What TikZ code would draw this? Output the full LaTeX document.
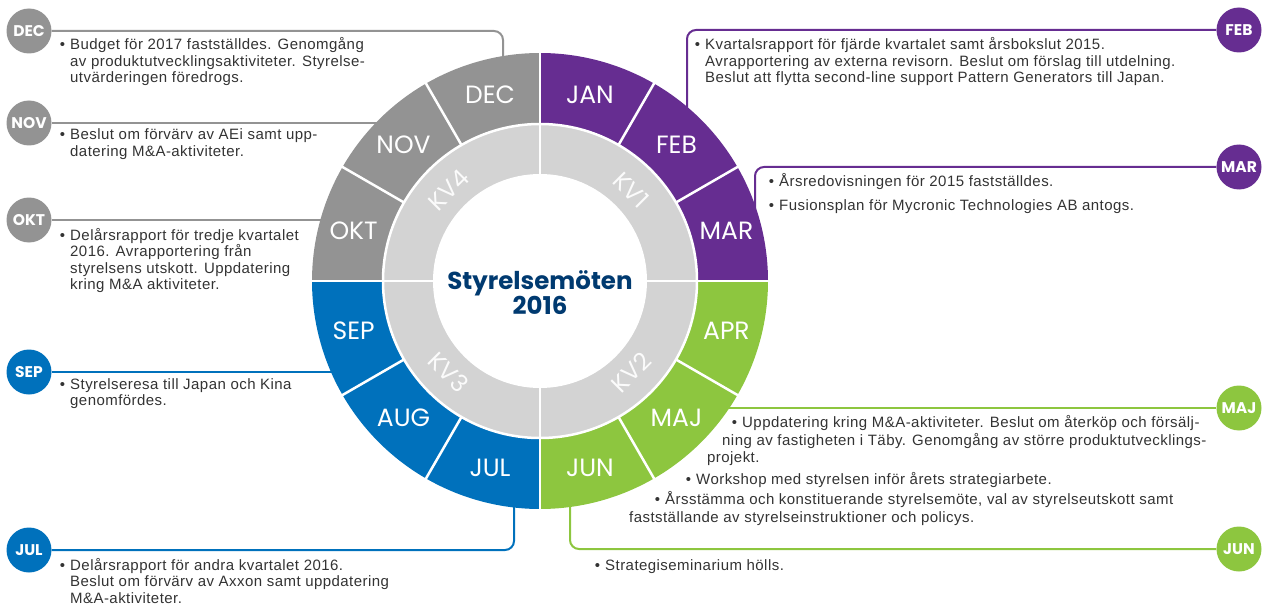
\documentclass[tikz,border=0pt]{standalone}
\usepackage{fontspec}
\setmainfont{Liberation Sans}[LetterSpace=3]
\newfontfamily\poppins{Poppins}
\usetikzlibrary{positioning}

\definecolor{kvpurple}{HTML}{662D91}
\definecolor{kvgreen}{HTML}{8DC63F}
\definecolor{kvblue}{HTML}{0071BC}
\definecolor{kvgray}{HTML}{939393}
\definecolor{ringgray}{HTML}{D3D3D3}
\definecolor{titlenavy}{HTML}{003A70}
\definecolor{bodytext}{HTML}{333333}

\tikzset{
  badge/.style={circle, fill=#1, minimum size=45, inner sep=0, text=white,
    font=\poppins\bfseries\fontsize{15.5}{15.5}\selectfont},
  link/.style={draw=#1, line width=2, rounded corners=9},
  body/.style={anchor=base west, align=left, inner sep=0, text=bodytext,
    font=\fontsize{15}{16.5}\selectfont},
  month/.style={text=white, inner sep=1, font=\poppins\fontsize{25}{25}\selectfont},
  quarter/.style={text=white!90!ringgray, inner sep=0, font=\poppins\fontsize{24}{24}\selectfont},
  gap/.style={white, line width=2.5}
}
\newcommand{\bul}{\llap{\textbullet\hspace{5pt}}}

\begin{document}
\begin{tikzpicture}[x=1pt, y=-1pt]
\useasboundingbox (0,0) rectangle (1264,607);

% badges
\node[badge=kvgray] (bdec) at (29,31) {DEC};
\node[badge=kvgray] (bnov) at (29,123) {NOV};
\node[badge=kvgray] (bokt) at (29,220) {OKT};
\node[badge=kvblue] (bsep) at (29,372) {SEP};
\node[badge=kvblue] (bjul) at (29,550) {JUL};
\node[badge=kvpurple] (bfeb) at (1239,30) {FEB};
\node[badge=kvpurple] (bmar) at (1239,167) {MAR};
\node[badge=kvgreen] (bmaj) at (1239,408) {MAJ};
\node[badge=kvgreen] (bjun) at (1239,549) {JUN};

% ends on the wheel
\coordinate (rdec) at (503,66);
\coordinate (rnov) at (385,123);
\coordinate (rokt) at (331,220);
\coordinate (rsep) at (340,372);
\coordinate (rjul) at (514,497);
\coordinate (rfeb) at (687,117);
\coordinate (rmar) at (755,215);
\coordinate (rmaj) at (720,408);
\coordinate (rjun) at (570,497);

\draw[link=kvgray] (bdec) -| (rdec);
\draw[link=kvgray] (bnov) -- (rnov);
\draw[link=kvgray] (bokt) -- (rokt);
\draw[link=kvblue] (bsep) -- (rsep);
\draw[link=kvblue] (bjul) -| (rjul);
\draw[link=kvpurple] (bfeb) -| (rfeb);
\draw[link=kvpurple] (bmar) -| (rmar);
\draw[link=kvgreen] (bmaj) -- (rmaj);
\draw[link=kvgreen] (bjun) -| (rjun);

% wheel
\begin{scope}[shift={(540,281)}, y=1pt]
  \def\Ro{228} \def\Rm{157} \def\Ri{107}
  \fill[ringgray] (0,0) circle[radius=\Rm];
  \fill[white] (0,0) circle[radius=\Ri];
  \foreach \c [count=\i from 0] in {kvpurple,kvpurple,kvpurple,kvgreen,kvgreen,kvgreen,
      kvblue,kvblue,kvblue,kvgray,kvgray,kvgray} {
    \pgfmathsetmacro\a{90-30*\i}
    \pgfmathsetmacro\b{60-30*\i}
    \fill[\c] (\a:\Rm) arc[start angle=\a, end angle=\b, radius=\Rm]
      -- (\b:\Ro) arc[start angle=\b, end angle=\a, radius=\Ro] -- cycle;
  }
  \draw[gap] (0,0) circle[radius=\Rm];
  \foreach \a in {0,30,...,330}
    \draw[gap] (\a:\Rm) -- (\a:\Ro+2);
  \foreach \a in {0,90,180,270}
    \draw[gap] (\a:\Ri) -- (\a:\Rm);
  \foreach \m [count=\i from 0] in {JAN,FEB,MAR,APR,MAJ,JUN,JUL,AUG,SEP,OKT,NOV,DEC}
    \node[month] (m\m) at ({75-30*\i}:193) {\m};
  \node[quarter, rotate=-45] (kv1) at (45:129) {KV1};
  \node[quarter, rotate=45] (kv2) at (-45:129) {KV2};
  \node[quarter, rotate=-45] (kv3) at (-135:129) {KV3};
  \node[quarter, rotate=45] (kv4) at (135:129) {KV4};
  \node[align=center, text=titlenavy, font=\poppins\bfseries\fontsize{24.5}{25}\selectfont]
    (title) at (0,-12) {Styrelsemöten\\2016};
\end{scope}

% texts (placed at the baseline of their last line)
\node[body] (tdec) at (70,83) {\bul Budget för 2017 fastställdes. Genomgång\\av produktutvecklingsaktiviteter. Styrelse-\\utvärderingen föredrogs.};
\node[body] (tnov) at (70,156.5) {\bul Beslut om förvärv av AEi samt upp-\\datering M\&A-aktiviteter.};
\node[body] (tokt) at (70,289.5) {\bul Delårsrapport för tredje kvartalet\\2016. Avrapportering från\\styrelsens utskott. Uppdatering\\kring M\&A aktiviteter.};
\node[body] (tsep) at (70,405.5) {\bul Styrelseresa till Japan och Kina\\genomfördes.};
\node[body] (tjul) at (70,603) {\bul Delårsrapport för andra kvartalet 2016.\\Beslut om förvärv av Axxon samt uppdatering\\M\&A-aktiviteter.};
\node[body] (tfeb) at (705,83) {\bul Kvartalsrapport för fjärde kvartalet samt årsbokslut 2015.\\Avrapportering av externa revisorn. Beslut om förslag till utdelning.\\Beslut att flytta second-line support Pattern Generators till Japan.};
\node[body] (tmar1) at (779,186) {\bul Årsredovisningen för 2015 fastställdes.};
\node[body] (tmar2) at (779,211) {\bul Fusionsplan för Mycronic Technologies AB antogs.};
\node[body] (tmaj1) at (742,427) {\bul Uppdatering kring M\&A-aktiviteter. Beslut om återköp och försälj-};
\node[body] (tmaj2) at (722,445) {ning av fastigheten i Täby. Genomgång av större produktutvecklings-};
\node[body] (tmaj3) at (707,462) {projekt.};
\node[body] (tmaj4) at (696,484) {\bul Workshop med styrelsen inför årets strategiarbete.};
\node[body] (tmaj5) at (665,504) {\bul Årsstämma och konstituerande styrelsemöte, val av styrelseutskott samt};
\node[body] (tmaj6) at (629,522) {fastställande av styrelseinstruktioner och policys.};
\node[body] (tjun) at (605,570) {\bul Strategiseminarium hölls.};
\end{tikzpicture}
\end{document}
